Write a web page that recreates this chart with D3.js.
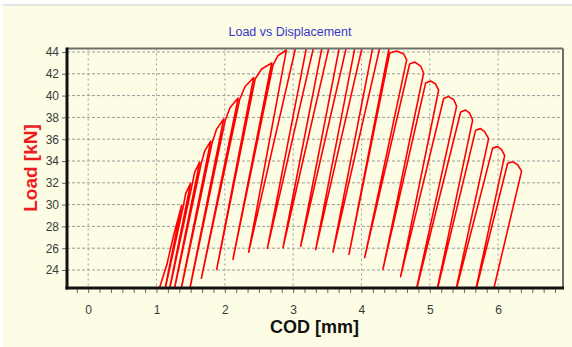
<!DOCTYPE html>
<html>
<head>
<meta charset="utf-8">
<script src="https://cdn.jsdelivr.net/npm/d3@7/dist/d3.min.js"></script>
<style>
  body { margin: 0; background: #fff; }
  svg { display: block; font-family: Arial, "Liberation Sans", sans-serif; }
</style>
</head>
<body>
<svg id="chart"></svg>
<script>
// load vs COD record, [cod mm, load kN]
// first loading + cycles on the rising branch
const risingPath = [
  [1.000, 21.50], [1.149, 24.43], [1.251, 27.19], [1.368, 29.94],
  [1.100, 21.50], [1.391, 29.81], [1.427, 31.00], [1.500, 31.97],
  [1.166, 21.50], [1.522, 31.83], [1.559, 32.98], [1.632, 33.89],
  [1.237, 21.50], [1.654, 33.76], [1.705, 34.90], [1.793, 35.82],
  [1.336, 21.50], [1.815, 35.69], [1.878, 36.90], [1.983, 37.85],
  [1.462, 21.50], [2.005, 37.71], [2.078, 38.90], [2.195, 39.77],
  [1.657, 23.24], [2.217, 39.64], [2.297, 40.83], [2.422, 41.66],
  [1.881, 24.06], [2.444, 41.52], [2.539, 42.44], [2.686, 42.99],
  [2.119, 24.98], [2.707, 42.85], [2.781, 43.68], [2.901, 44.18],
  [2.349, 25.63]
];
// cycles around the peak (tops run past the frame)
const peakPath = [
  [3.044, 44.60], [3.117, 44.80], [3.201, 44.60], [2.623, 25.99],
  [3.305, 44.60], [3.370, 44.80], [3.428, 44.60], [2.851, 26.04],
  [3.531, 44.60], [3.610, 44.80], [3.682, 44.60], [3.110, 26.18],
  [3.785, 44.60], [3.850, 44.80], [3.910, 44.60], [3.330, 25.87],
  [4.016, 44.60], [4.090, 44.80], [4.171, 44.60], [3.583, 25.65],
  [4.276, 44.60], [4.340, 44.80], [4.412, 44.60], [3.817, 25.44]
];
// softening branch
const softeningPath = [
  [4.413, 43.91], [4.516, 44.09], [4.618, 43.82], [4.662, 43.27], [4.047, 25.14],
  [4.705, 42.90], [4.778, 43.08], [4.866, 42.71], [4.910, 42.07], [4.314, 24.06],
  [4.939, 41.15], [5.013, 41.34], [5.086, 41.06], [5.130, 40.51], [4.573, 23.39],
  [5.203, 39.73], [5.276, 39.91], [5.349, 39.64], [5.393, 39.04], [4.778, 21.50],
  [5.452, 38.49], [5.525, 38.67], [5.583, 38.40], [5.627, 37.75], [5.083, 21.50],
  [5.671, 36.83], [5.744, 36.97], [5.803, 36.70], [5.861, 36.05], [5.359, 21.50],
  [5.920, 35.18], [5.993, 35.32], [6.052, 35.04], [6.096, 34.49], [5.649, 21.50],
  [6.140, 33.80], [6.213, 33.94], [6.286, 33.66], [6.344, 33.07], [5.907, 21.50]
];

const xTicks = [0, 1, 2, 3, 4, 5, 6];
const yTicks = [24, 26, 28, 30, 32, 34, 36, 38, 40, 42, 44];
const xDomain = [-0.31, 6.95];
const yDomain = [22.35, 44.32];
const minorPerUnit = 6;

const width = 572, height = 347;
const plot = { left: 67, right: 563, top: 48.5, bottom: 288 };

const svg = d3.select("#chart")
  .attr("width", width)
  .attr("height", height);

// panel background
svg.append("rect")
  .attr("x", 3).attr("y", 5)
  .attr("width", width - 3).attr("height", height - 5)
  .attr("fill", "#fdfde6");
svg.append("line")
  .attr("x1", 3).attr("x2", width)
  .attr("y1", 5).attr("y2", 5)
  .attr("stroke", "#dcdcdc").attr("stroke-width", 1.5);

const x = d3.scaleLinear().domain(xDomain).range([plot.left, plot.right]);
const y = d3.scaleLinear().domain(yDomain).range([plot.bottom, plot.top]);

// grid
const grid = svg.append("g").attr("id", "grid");
grid.selectAll("line.h")
  .data(yTicks)
  .enter()
  .append("line")
  .attr("class", "h")
  .attr("x1", plot.left).attr("x2", plot.right)
  .attr("y1", d => y(d)).attr("y2", d => y(d))
  .attr("stroke", "#9a9a9a")
  .attr("stroke-dasharray", "3,2");
grid.selectAll("line.v")
  .data(xTicks)
  .enter()
  .append("line")
  .attr("class", "v")
  .attr("x1", d => x(d)).attr("x2", d => x(d))
  .attr("y1", plot.top).attr("y2", plot.bottom)
  .attr("stroke", "#9a9a9a")
  .attr("stroke-dasharray", "2,3");

// the curve, clipped to the frame
svg.append("clipPath")
  .attr("id", "plot-clip")
  .append("rect")
  .attr("x", plot.left).attr("y", plot.top)
  .attr("width", plot.right - plot.left)
  .attr("height", plot.bottom - plot.top);

const lineFunction = d3.line()
  .x(d => x(d[0]))
  .y(d => y(d[1]))
  .curve(d3.curveLinear);

svg.append("path")
  .datum(risingPath.concat(peakPath, softeningPath))
  .attr("clip-path", "url(#plot-clip)")
  .attr("d", lineFunction)
  .attr("fill", "none")
  .attr("stroke", "#ff0000")
  .attr("stroke-width", 1.6)
  .attr("stroke-linejoin", "round");

// axes
const minorTicks = d3.range(Math.ceil(xDomain[0] * minorPerUnit), Math.floor(xDomain[1] * minorPerUnit) + 1)
  .map(i => i / minorPerUnit);

svg.append("g")
  .attr("transform", "translate(0," + plot.bottom + ")")
  .call(d3.axisBottom(x).tickValues(minorTicks).tickSize(5).tickFormat(""))
  .call(g => g.select(".domain").remove())
  .call(g => g.selectAll("line").attr("stroke", "#6a6a6a"));

svg.append("g")
  .attr("transform", "translate(0," + plot.bottom + ")")
  .call(d3.axisBottom(x).tickValues(xTicks).tickSize(0).tickPadding(17).tickFormat(d3.format("d")))
  .call(g => g.select(".domain").remove())
  .call(g => g.selectAll("text")
    .attr("fill", "#3a3a3a")
    .style("font-size", "12px")
    .style("font-family", "Arial, 'Liberation Sans', sans-serif"));

svg.append("g")
  .attr("transform", "translate(" + plot.left + ",0)")
  .call(d3.axisLeft(y).tickValues(yTicks).tickSize(5).tickPadding(3).tickFormat(d3.format("d")))
  .call(g => g.select(".domain").remove())
  .call(g => g.selectAll("line").attr("stroke", "#6a6a6a"))
  .call(g => g.selectAll("text")
    .attr("fill", "#3a3a3a")
    .style("font-size", "12px")
    .style("font-family", "Arial, 'Liberation Sans', sans-serif"));

// frame: dark left/bottom, grey top/right
svg.append("line")
  .attr("x1", plot.left).attr("x2", plot.right)
  .attr("y1", plot.top).attr("y2", plot.top)
  .attr("stroke", "#6e6e6e").attr("stroke-width", 2);
svg.append("line")
  .attr("x1", plot.right).attr("x2", plot.right)
  .attr("y1", plot.top).attr("y2", plot.bottom)
  .attr("stroke", "#6e6e6e").attr("stroke-width", 2);
svg.append("line")
  .attr("x1", plot.left).attr("x2", plot.left)
  .attr("y1", plot.top - 1).attr("y2", plot.bottom + 1.5)
  .attr("stroke", "#111").attr("stroke-width", 3);
svg.append("line")
  .attr("x1", plot.left - 1.5).attr("x2", plot.right + 1)
  .attr("y1", plot.bottom).attr("y2", plot.bottom)
  .attr("stroke", "#111").attr("stroke-width", 3);

// labels
svg.append("text")
  .attr("x", 290).attr("y", 36)
  .attr("text-anchor", "middle")
  .attr("fill", "#3535c8")
  .style("font-size", "12.5px")
  .text("Load vs Displacement");

svg.append("text")
  .attr("x", 314.5).attr("y", 333)
  .attr("text-anchor", "middle")
  .attr("fill", "#111")
  .style("font-size", "18px")
  .style("font-weight", "bold")
  .text("COD [mm]");

svg.append("text")
  .attr("transform", "translate(37,168) rotate(-90)")
  .attr("text-anchor", "middle")
  .attr("fill", "#ee1c1c")
  .style("font-size", "19px")
  .style("font-weight", "bold")
  .text("Load [kN]");
</script>
</body>
</html>
